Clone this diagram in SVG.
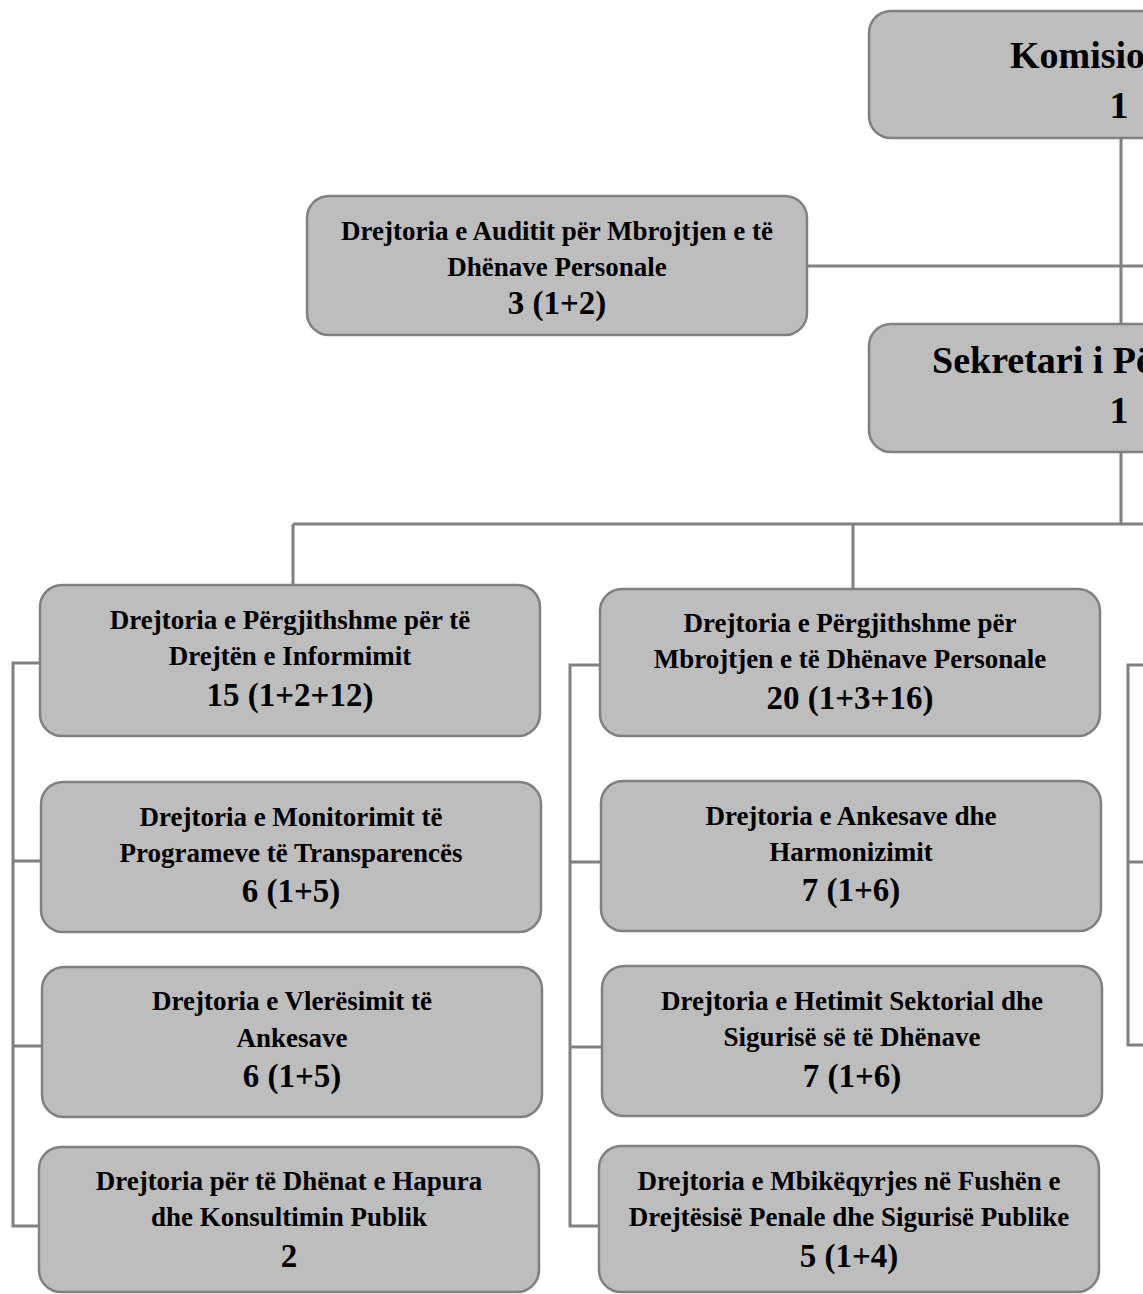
<svg xmlns="http://www.w3.org/2000/svg" width="1143" height="1294" viewBox="0 0 1143 1294">
<style>
.box{fill:#bdbdbd;stroke:#808080;stroke-width:2.5}
.c{fill:none;stroke:#808080;stroke-width:3}
text{font-family:"Liberation Serif","Times New Roman",serif;font-weight:bold;fill:#000}
.t{font-size:27px;text-anchor:middle}
.n{font-size:33px;text-anchor:middle}
.big{font-size:38px}
</style>
<rect width="1143" height="1294" fill="#ffffff"/>
<g id="connectors">
<path class="c" d="M1121 138V324M1121 452V524M807 266H1143M293 524H1143M293 524V585M853 524V589"/>
<path class="c" d="M40 663H13V1226H40M13 861H41M13 1046H42"/>
<path class="c" d="M600 665H570V1226H599M570 862H601M570 1047H602"/>
<path class="c" d="M1143 665H1128V1045H1143M1128 862H1143"/>
</g>
<g id="komisioneri">
<rect class="box" x="869" y="11" width="520" height="127" rx="22"/>
<text class="big" x="1010" y="68" font-size="40">Komisioneri</text>
<text class="big" x="1119" y="118" text-anchor="middle">1</text>
</g>
<g id="sekretari">
<rect class="box" x="869" y="324" width="520" height="128" rx="22"/>
<text class="big" x="932" y="373">Sekretari i Përgjithshëm</text>
<text class="big" x="1119" y="423" text-anchor="middle">1</text>
</g>
<g id="auditi">
<rect class="box" x="307" y="196" width="500" height="139" rx="22"/>
<text class="t" x="557" y="240">Drejtoria e Auditit për Mbrojtjen e të</text>
<text class="t" x="557" y="276">Dhënave Personale</text>
<text class="n" x="557" y="314">3 (1+2)</text>
</g>
<g id="dp-informimit">
<rect class="box" x="40" y="585" width="500" height="151" rx="22"/>
<text class="t" x="290" y="629">Drejtoria e Përgjithshme për të</text>
<text class="t" x="290" y="665">Drejtën e Informimit</text>
<text class="n" x="290" y="706">15 (1+2+12)</text>
</g>
<g id="monitorimit">
<rect class="box" x="41" y="782" width="500" height="150" rx="22"/>
<text class="t" x="291" y="826">Drejtoria e Monitorimit të</text>
<text class="t" x="291" y="862">Programeve të Transparencës</text>
<text class="n" x="291" y="902">6 (1+5)</text>
</g>
<g id="vleresimit">
<rect class="box" x="42" y="967" width="500" height="150" rx="22"/>
<text class="t" x="292" y="1010">Drejtoria e Vlerësimit të</text>
<text class="t" x="292" y="1047">Ankesave</text>
<text class="n" x="292" y="1087">6 (1+5)</text>
</g>
<g id="te-dhenat-hapura">
<rect class="box" x="39" y="1147" width="500" height="145" rx="22"/>
<text class="t" x="289" y="1190">Drejtoria për të Dhënat e Hapura</text>
<text class="t" x="289" y="1226">dhe Konsultimin Publik</text>
<text class="n" x="289" y="1267">2</text>
</g>
<g id="dp-mbrojtjen">
<rect class="box" x="600" y="589" width="500" height="147" rx="22"/>
<text class="t" x="850" y="632">Drejtoria e Përgjithshme për</text>
<text class="t" x="850" y="668">Mbrojtjen e të Dhënave Personale</text>
<text class="n" x="850" y="709">20 (1+3+16)</text>
</g>
<g id="ankesave">
<rect class="box" x="601" y="781" width="500" height="150" rx="22"/>
<text class="t" x="851" y="825">Drejtoria e Ankesave dhe</text>
<text class="t" x="851" y="861">Harmonizimit</text>
<text class="n" x="851" y="901">7 (1+6)</text>
</g>
<g id="hetimit">
<rect class="box" x="602" y="966" width="500" height="150" rx="22"/>
<text class="t" x="852" y="1010">Drejtoria e Hetimit Sektorial dhe</text>
<text class="t" x="852" y="1046">Sigurisë së të Dhënave</text>
<text class="n" x="852" y="1087">7 (1+6)</text>
</g>
<g id="mbikeqyrjes">
<rect class="box" x="599" y="1146" width="500" height="146" rx="22"/>
<text class="t" x="849" y="1190">Drejtoria e Mbikëqyrjes në Fushën e</text>
<text class="t" x="849" y="1226">Drejtësisë Penale dhe Sigurisë Publike</text>
<text class="n" x="849" y="1267">5 (1+4)</text>
</g>
</svg>
